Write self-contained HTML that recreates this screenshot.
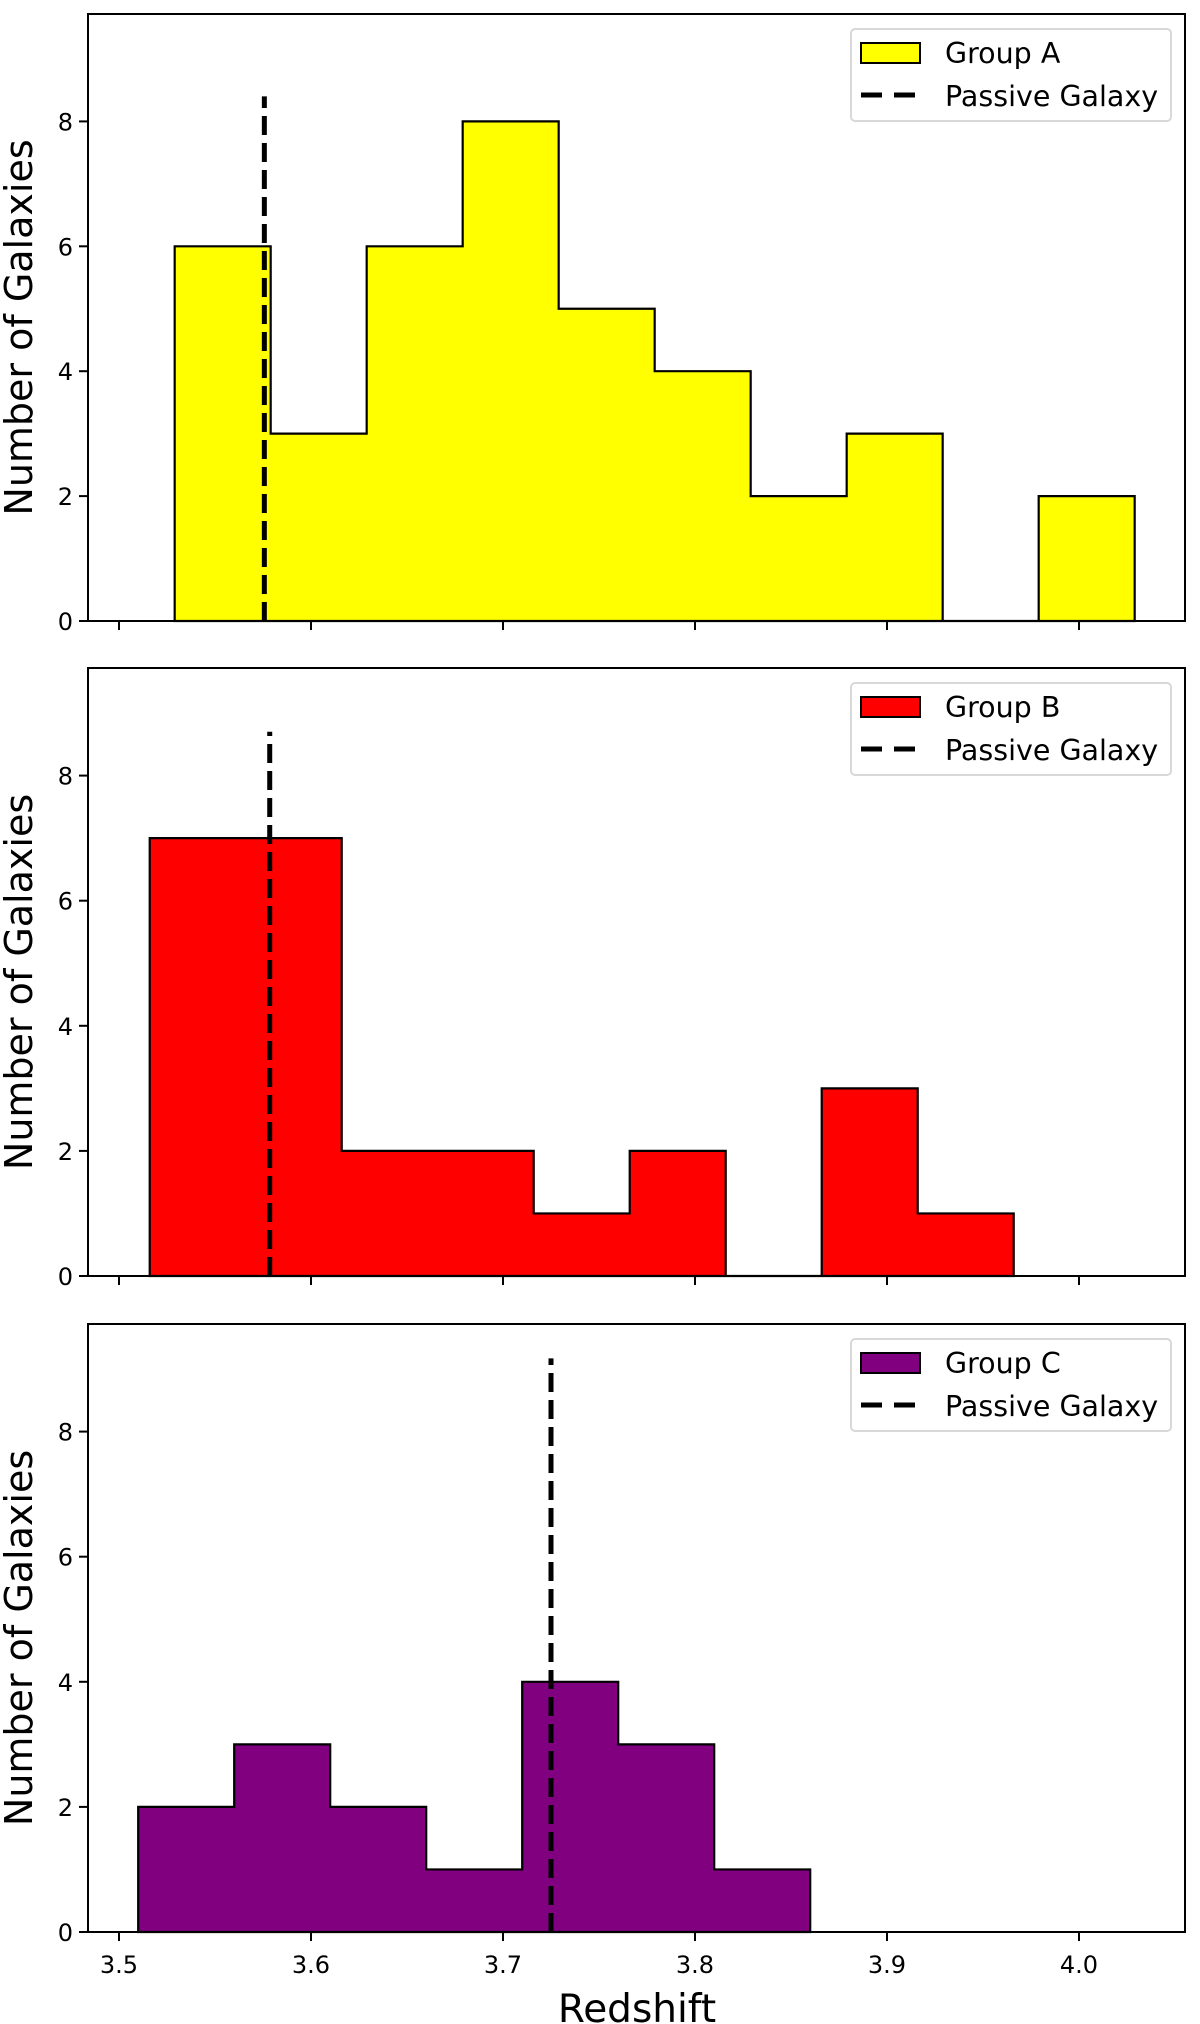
<!DOCTYPE html>
<html><head><meta charset="utf-8"><style>
body{margin:0;background:#fff}
svg{display:block;font-family:"DejaVu Sans","Liberation Sans",sans-serif}
</style></head><body>
<svg id="chart" width="1200" height="2024" viewBox="0 0 1200 2024" xmlns="http://www.w3.org/2000/svg"></svg>
<script>
const groupNames = ["Group A","Group B","Group C"];
const groupColors = ["#ffff00","#ff0000","#800080"];
const binStarts = [3.529, 3.516, 3.510];
const binWidth = 0.05;
const countsA = [6,3,6,8,5,4,2,3,0,2];
const countsB = [7,7,2,2,1,2,0,3,1];
const countsC = [2,3,2,1,4,3,1];
const passiveZ = [3.5757, 3.5785, 3.725];
const passiveTop = [8.4, 8.7, 9.17];
const yTicks = [0,2,4,6,8];
const xTicks = [3.5,3.6,3.7,3.8,3.9,4.0];
const xTickLabels = ["3.5","3.6","3.7","3.8","3.9","4.0"];
const allCounts = [countsA,countsB,countsC];

const NS="http://www.w3.org/2000/svg";
const svg=document.getElementById('chart');
const L=88,R=1185,YMAX=9.72;
const panels=[{top:14,bottom:621},{top:668,bottom:1276},{top:1324,bottom:1932}];
const xs=v=>119+(v-3.5)*1920;
function mk(tag,attrs,parent){const e=document.createElementNS(NS,tag);for(const k in attrs)e.setAttribute(k,attrs[k]);(parent||svg).appendChild(e);return e;}

panels.forEach((p,i)=>{
  const ys=v=>p.bottom-v*(p.bottom-p.top)/YMAX;
  const g=mk('g',{});
  
  
  const c=allCounts[i];let d='';
  let x0=binStarts[i];
  d+=`M${xs(x0)},${ys(0)}`;
  c.forEach((n,k)=>{const a=xs(x0+k*binWidth),b=xs(x0+(k+1)*binWidth);d+=` L${a},${ys(n)} L${b},${ys(n)}`;});
  d+=` L${xs(x0+c.length*binWidth)},${ys(0)} Z`;
  const h=mk('path',{d:d,fill:groupColors[i],stroke:'#000','stroke-width':2.2,'stroke-linejoin':'miter'},g);
  
  
  const pl=mk('line',{x1:xs(passiveZ[i]),x2:xs(passiveZ[i]),y1:ys(0),y2:ys(passiveTop[i]),stroke:'#000','stroke-width':5,'stroke-dasharray':'19,8'},g);
  
  
  const fr=mk('rect',{x:L,y:p.top,width:R-L,height:p.bottom-p.top,fill:'none',stroke:'#000','stroke-width':2},g);
  
  
  yTicks.forEach(t=>{
    mk('line',{x1:L-9,x2:L,y1:ys(t),y2:ys(t),stroke:'#000','stroke-width':2},g);
    const tl=mk('text',{x:L-15,y:ys(t)+9,'text-anchor':'end','font-size':24},g);
    tl.textContent=t;
    
    
  });
  xTicks.forEach((t,k)=>{
    mk('line',{x1:xs(t),x2:xs(t),y1:p.bottom,y2:p.bottom+9,stroke:'#000','stroke-width':2},g);
    if(i===2){
      const tl=mk('text',{x:xs(t),y:p.bottom+41,'text-anchor':'middle','font-size':24},g);
      tl.textContent=xTickLabels[k];
      
      
    }
  });
  const cy=(p.top+p.bottom)/2+10;
  const yl=mk('text',{x:0,y:0,transform:`translate(32,${cy}) rotate(-90)`,'text-anchor':'middle','font-size':38},g);
  yl.textContent='Number of Galaxies';
  
  
  const lg=mk('g',{transform:`translate(0,${p.top-14})`},g);
  
  
  mk('rect',{x:851,y:29,width:320,height:92,rx:4,fill:'#fff',stroke:'#d8d8d8','stroke-width':2},lg);
  const pe=mk('rect',{x:861,y:43,width:59,height:20,fill:groupColors[i],stroke:'#000','stroke-width':2},lg);
  
  
  const t1=mk('text',{x:945,y:63,'font-size':28.5},lg);t1.textContent=groupNames[i];
  
  
  const dl=mk('line',{x1:861,x2:921,y1:95,y2:95,stroke:'#000','stroke-width':5,'stroke-dasharray':'21,12'},lg);
  
  
  const t2=mk('text',{x:945,y:106,'font-size':28.5},lg);t2.textContent='Passive Galaxy';
  
  
});
const xl=mk('text',{x:637,y:2022,'text-anchor':'middle','font-size':39});
xl.textContent='Redshift';


</script>
</body></html>
